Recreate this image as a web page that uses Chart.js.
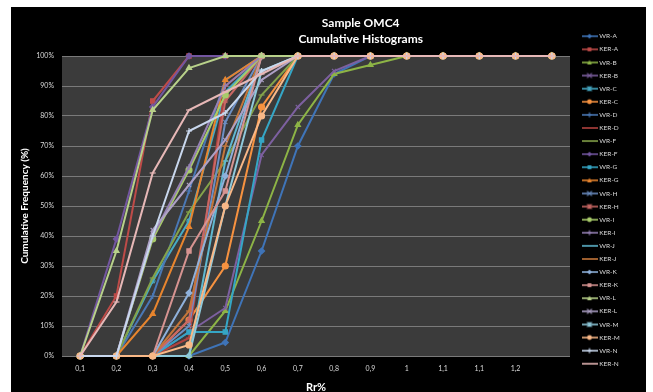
<!DOCTYPE html>
<html><head><meta charset="utf-8">
<script src="https://cdn.jsdelivr.net/npm/chart.js@4.4.1/dist/chart.umd.min.js"></script>
<style>html,body{margin:0;padding:0;background:#fff;overflow:hidden}canvas{display:block}</style>
</head><body>
<canvas id="c" width="653" height="392"></canvas>
<script>
const categories = ['0,1','0,2','0,3','0,4','0,5','0,6','0,7','0,8','0,9','1','1,1','1,1','1,2',''];
const seriesNames = ['WR-A','KER-A','WR-B','KER-B','WR-C','KER-C','WR-D','KER-D','WR-F','KER-F','WR-G','KER-G','WR-H','KER-H','WR-I','KER-I','WR-J','KER-J','WR-K','KER-K','WR-L','KER-L','WR-M','KER-M','WR-N','KER-N'];

const wrA  = [0,0,0,0,4.5,35,70,94,100,100,100,100,100,100];
const kerA = [0,20,85,100,100,100,100,100,100,100,100,100,100,100];
const wrB  = [0,0,0,0,15,45,77,94,97,100,100,100,100,100];
const kerB = [0,0,0,8,16,67,83,95,100,100,100,100,100,100];
const wrC  = [0,0,25,45,88,100,100,100,100,100,100,100,100,100];
const kerC = [0,0,0,12,30,83,100,100,100,100,100,100,100,100];
const wrD  = [0,0,20,55,92,100,100,100,100,100,100,100,100,100];
const kerD = [0,0,0,6,90,100,100,100,100,100,100,100,100,100];
const wrF  = [0,0,26,48,65,87,100,100,100,100,100,100,100,100];
const kerF = [0,39,83,100,100,100,100,100,100,100,100,100,100,100];
const wrG  = [0,0,0,8,8,72,100,100,100,100,100,100,100,100];
const kerG = [0,0,14,43,92,100,100,100,100,100,100,100,100,100];
const wrH  = [0,0,0,10,78,100,100,100,100,100,100,100,100,100];
const kerH = [0,0,0,12,85,100,100,100,100,100,100,100,100,100];
const wrI  = [0,0,39,62,87,100,100,100,100,100,100,100,100,100];
const kerI = [0,0,40,63,90,100,100,100,100,100,100,100,100,100];
const wrJ  = [0,0,0,0,65,100,100,100,100,100,100,100,100,100];
const kerJ = [0,0,0,15,70,100,100,100,100,100,100,100,100,100];
const wrK  = [0,0,0,21,60,100,100,100,100,100,100,100,100,100];
const kerK = [0,0,0,35,55,100,100,100,100,100,100,100,100,100];
const wrL  = [0,35,82,96,100,100,100,100,100,100,100,100,100,100];
const kerL = [0,0,42,57,72,92,100,100,100,100,100,100,100,100];
const wrM  = [0,0,0,0,50,95,100,100,100,100,100,100,100,100];
const kerM = [0,0,0,3.7,50,80,100,100,100,100,100,100,100,100];
const wrN  = [0,0,40,75,81,95,100,100,100,100,100,100,100,100];
const kerN = [0,18,61,82,88,94,100,100,100,100,100,100,100,100];

const seriesValues = [wrA,kerA,wrB,kerB,wrC,kerC,wrD,kerD,wrF,kerF,wrG,kerG,wrH,kerH,wrI,kerI,wrJ,kerJ,wrK,kerK,wrL,kerL,wrM,kerM,wrN,kerN];

const colors = ['#3F74B8','#BE4B48','#8DB446','#7D60A0','#46AAC5','#F69240','#4A78B5','#B0423F','#84A34A','#7356A0','#35A6C6','#E8852E',
  '#6C8FC4','#C96764','#A8CB6A','#9580B4','#5FB8D0','#C4763A','#8FB1DB','#D69391','#B8D18A','#ADA0C6','#8FCADB','#F9B887','#C9D8EE','#E7B8B7'];
const markerCycle = ['rectRot','rect','triangle','crossRot','star','circle','cross','line','line'];

function drawMark(g, style, x, y, r, color){
  g.fillStyle = color; g.strokeStyle = color; g.lineWidth = 1.2;
  g.beginPath();
  if (style === 'rectRot'){ g.moveTo(x,y-r); g.lineTo(x+r,y); g.lineTo(x,y+r); g.lineTo(x-r,y); g.closePath(); g.fill(); }
  else if (style === 'rect'){ g.rect(x-r*0.8,y-r*0.8,r*1.6,r*1.6); g.fill(); }
  else if (style === 'triangle'){ g.moveTo(x,y-r); g.lineTo(x+r,y+r*0.8); g.lineTo(x-r,y+r*0.8); g.closePath(); g.fill(); }
  else if (style === 'circle'){ g.arc(x,y,r,0,Math.PI*2); g.fill(); }
  else if (style === 'crossRot'){ g.moveTo(x-r,y-r); g.lineTo(x+r,y+r); g.moveTo(x+r,y-r); g.lineTo(x-r,y+r); g.stroke(); }
  else if (style === 'cross'){ g.moveTo(x,y-r); g.lineTo(x,y+r); g.moveTo(x-r,y); g.lineTo(x+r,y); g.stroke(); }
  else if (style === 'star'){ g.moveTo(x-r,y-r); g.lineTo(x+r,y+r); g.moveTo(x+r,y-r); g.lineTo(x-r,y+r); g.moveTo(x,y-r); g.lineTo(x,y+r); g.stroke(); }
}
function legendIcon(color, style){
  const c = document.createElement('canvas'); c.width = 16; c.height = 8;
  const g = c.getContext('2d');
  g.strokeStyle = color; g.lineWidth = 1.6; g.beginPath(); g.moveTo(0,4); g.lineTo(16,4); g.stroke();
  drawMark(g, style, 8, 4, 2.4, color);
  return c;
}
const icons = seriesNames.map((n,i)=>legendIcon(colors[i], markerCycle[i%9]));

const bgPlugin = {
  id: 'bgPlugin',
  beforeDraw(chart){
    const {ctx, chartArea:a} = chart;
    ctx.save();
    ctx.fillStyle = '#ffffff'; ctx.fillRect(0,0,chart.width,chart.height);
    ctx.fillStyle = '#000000'; ctx.fillRect(11,7,635,chart.height);
    ctx.fillStyle = '#3b3b3b'; ctx.fillRect(a.left,a.top,a.right-a.left,a.bottom-a.top);
    ctx.restore();
  },
  afterLayout(chart){
    const t = chart.titleBlock;
    if (t){ t.left += 43; t.right += 43; }
  }
};

Chart.defaults.font.family = 'Lato';

new Chart(document.getElementById('c'), {
  type: 'line',
  data: {
    labels: categories,
    datasets: seriesNames.map((name,i)=>({
      label: name,
      data: seriesValues[i],
      borderColor: colors[i],
      backgroundColor: colors[i],
      borderWidth: 2,
      pointStyle: markerCycle[i%9],
      pointRadius: 3,
      pointHoverRadius: 3,
      pointBorderWidth: 1.2,
      pointBackgroundColor: colors[i],
      pointBorderColor: colors[i],
      tension: 0,
      clip: false,
      order: -i
    }))
  },
  options: {
    responsive: false,
    animation: false,
    devicePixelRatio: 1,
    layout: { padding: { left: 11, right: 28.6, top: 8, bottom: 0 } },
    plugins: {
      tooltip: { enabled: false },
      title: {
        display: true,
        text: ['Sample OMC4','Cumulative Histograms'],
        color: '#ffffff',
        font: { size: 12, weight: 'bold', lineHeight: 16/12 },
        padding: { top: 7, bottom: 9 }
      },
      legend: {
        position: 'right',
        maxWidth: 48,
        labels: {
          usePointStyle: true,
          pointStyleWidth: 13,
          color: '#d9d9d9',
          font: { size: 6.5 },
          padding: 6.6,
          sort: (a,b) => a.datasetIndex - b.datasetIndex,
          generateLabels(chart){
            const items = Chart.defaults.plugins.legend.labels.generateLabels(chart);
            items.forEach(it => { it.pointStyle = icons[it.datasetIndex]; it.rotation = 0; });
            return items;
          }
        }
      }
    },
    scales: {
      x: {
        type: 'category',
        offset: true,
        grid: { display: false, drawTicks: false },
        border: { display: false },
        ticks: { color: '#d9d9d9', font: { size: 7 }, padding: 9, maxRotation: 0, autoSkip: false },
        title: { display: true, text: 'Rr%', color: '#ffffff', font: { size: 11, weight: 'bold', lineHeight: 1 }, padding: { top: 0, bottom: -1 } },
        afterFit(s){ s.height = 36; }
      },
      y: {
        min: 0, max: 100,
        ticks: { stepSize: 10, callback: v => v + '%', color: '#d9d9d9', font: { size: 7 }, padding: 8 },
        grid: { color: '#7a7a7a', lineWidth: 1, drawTicks: false },
        border: { display: false },
        title: { display: true, text: 'Cumulative Frequency (%)', color: '#ffffff', font: { size: 10, weight: 'bold', lineHeight: 1.2 }, padding: { top: 8, bottom: 0 } },
        afterFit(s){ s.width = 51; }
      },
      yr: {
        position: 'right',
        display: true,
        grid: { display: false, drawTicks: false },
        ticks: { display: false },
        border: { display: false },
        afterFit(s){ s.width = 6.4; }
      }
    }
  },
  plugins: [bgPlugin]
});
</script>
</body></html>
